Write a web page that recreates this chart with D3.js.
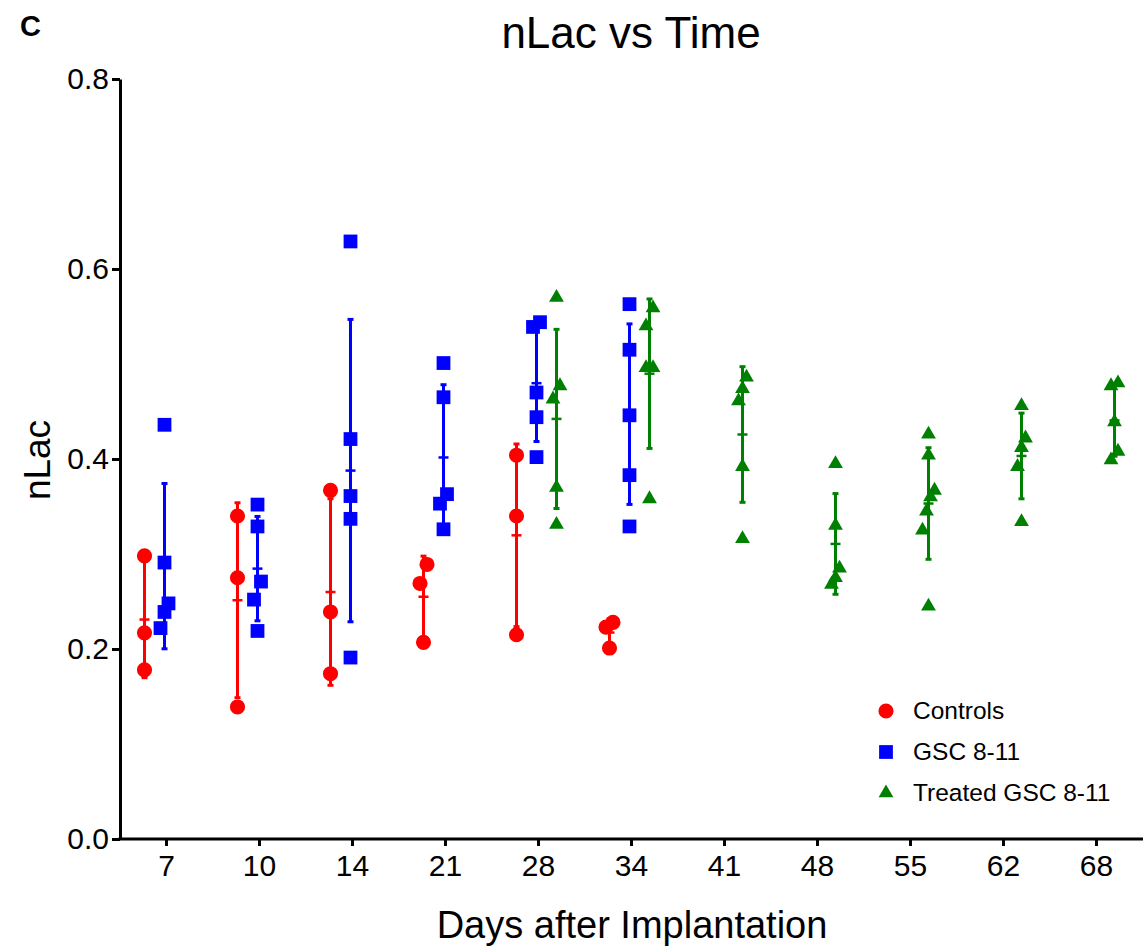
<!DOCTYPE html>
<html><head><meta charset="utf-8">
<script src="https://cdn.jsdelivr.net/npm/d3@7"></script>
<style>
body{margin:0;background:#fff}
svg{display:block}
text{font-family:"Liberation Sans",Arial,Helvetica,sans-serif;fill:#000}
</style>
</head><body>
<svg id="chart" width="1143" height="948"></svg>
<script>
// ---- data ----
const days = ["7","10","14","21","28","34","41","48","55","62","68"];
const seriesNames = ["Controls","GSC 8-11","Treated GSC 8-11"];
const yTicks = [0.0,0.2,0.4,0.6,0.8];

const controlsDays = ["7","10","14","21","28","34"];
const controlsValues = [
  [0.298,0.217,0.178],
  [0.340,0.275,0.139],
  [0.367,0.239,0.174],
  [0.289,0.269,0.207],
  [0.404,0.340,0.215],
  [0.228,0.223,0.201]
];
const gscDays = ["7","10","14","21","28","34"];
const gscValues = [
  [0.436,0.291,0.248,0.239,0.222],
  [0.352,0.329,0.271,0.252,0.219],
  [0.629,0.421,0.361,0.337,0.191],
  [0.501,0.465,0.363,0.353,0.326],
  [0.544,0.539,0.470,0.444,0.402],
  [0.563,0.515,0.446,0.383,0.329]
];
const treatedDays = ["28","34","41","48","55","62","68"];
const treatedValues = [
  [0.570,0.477,0.463,0.370,0.331],
  [0.559,0.540,0.496,0.496,0.358],
  [0.486,0.474,0.461,0.392,0.316],
  [0.395,0.330,0.285,0.275,0.268],
  [0.426,0.404,0.367,0.360,0.345,0.325,0.245],
  [0.456,0.422,0.412,0.392,0.334],
  [0.480,0.477,0.439,0.408,0.399]
];

const series = [
  {name: seriesNames[0], days: controlsDays, values: controlsValues},
  {name: seriesNames[1], days: gscDays, values: gscValues},
  {name: seriesNames[2], days: treatedDays, values: treatedValues}
];

// ---- layout ----
const svg = d3.select("#chart");
const plot = {left:120, right:1143, top:79, bottom:839};

const x = d3.scaleBand().domain(days).range([plot.left, plot.right]).padding(0);
const group = d3.scalePoint().domain(seriesNames).range([-22, 18]);
const y = d3.scaleLinear().domain([0, 0.8]).range([plot.bottom, plot.top]);
const color = d3.scaleOrdinal().domain(seriesNames).range(["#FF0000","#0000FF","#008000"]);
const shape = d3.scaleOrdinal().domain(seriesNames).range([d3.symbolCircle, d3.symbolSquare, d3.symbolTriangle]);
const symSize = d3.scaleOrdinal().domain(seriesNames).range([180, 190, 95]);

// build groups
const groups = [];
series.forEach(s => {
  s.days.forEach((d, i) => {
    const vals = s.values[i];
    const cx = x(d) + x.bandwidth()/2 + group(s.name);
    const mean = d3.mean(vals);
    const sd = d3.deviation(vals);
    // horizontal spreading of overlapping points (scatter-dot style)
    const sorted = vals.slice().sort((a,b) => b - a);
    const pts = [];
    let cluster = [];
    const flush = () => {
      const n = cluster.length;
      const step = n > 2 ? 4 : 7;
      cluster.forEach((v, k) => pts.push({v, dx: ((n-1)/2 - k) * step}));
      cluster = [];
    };
    sorted.forEach(v => {
      if (cluster.length && (y(v) - y(cluster[cluster.length-1])) >= 20) flush();
      cluster.push(v);
    });
    flush();
    groups.push({name: s.name, cx, mean, sd, pts});
  });
});

// ---- error bars ----
const eb = svg.append("g");
groups.forEach(g => {
  const c = color(g.name);
  const gg = eb.append("g").attr("stroke", c).attr("fill", "none");
  gg.append("line").attr("x1", g.cx).attr("x2", g.cx)
    .attr("y1", y(g.mean - g.sd)).attr("y2", y(g.mean + g.sd)).attr("stroke-width", 3);
  [g.mean - g.sd, g.mean + g.sd].forEach(v => {
    gg.append("line").attr("x1", g.cx - 3).attr("x2", g.cx + 3)
      .attr("y1", y(v)).attr("y2", y(v)).attr("stroke-width", 3);
  });
  gg.append("line").attr("x1", g.cx - 5).attr("x2", g.cx + 5)
    .attr("y1", y(g.mean)).attr("y2", y(g.mean)).attr("stroke-width", 2.5);
});

// ---- points ----
const pg = svg.append("g");
groups.forEach(g => {
  pg.selectAll(null).data(g.pts).enter().append("path")
    .attr("d", d3.symbol().type(shape(g.name)).size(symSize(g.name)))
    .attr("transform", p => `translate(${g.cx + p.dx},${y(p.v)})`)
    .attr("fill", color(g.name));
});

// ---- axes ----
const yAxis = svg.append("g").attr("transform", `translate(${plot.left},0)`)
  .call(d3.axisLeft(y).tickValues(yTicks).tickFormat(d3.format(".1f")).tickSize(8).tickSizeOuter(0).tickPadding(3));
const xAxis = svg.append("g").attr("transform", `translate(0,${plot.bottom})`)
  .call(d3.axisBottom(x).tickSize(7).tickSizeOuter(0).tickPadding(9));
[yAxis, xAxis].forEach(a => {
  a.select(".domain").attr("stroke", "#000").attr("stroke-width", 3);
  a.selectAll(".tick line").attr("stroke", "#000").attr("stroke-width", 3);
  a.selectAll(".tick text").attr("font-size", 30).attr("font-family", '"Liberation Sans",Arial,sans-serif').attr("fill", "#000");
});
xAxis.select(".domain").attr("d", `M${plot.left - 1.5},0H${plot.right}`);

// ---- titles ----
svg.append("text").attr("x", 631).attr("y", 48).attr("text-anchor", "middle")
  .attr("font-size", 44).text("nLac vs Time");
svg.append("text").attr("x", 20).attr("y", 36).attr("font-size", 29).attr("font-weight", "bold").text("C");
svg.append("text").attr("transform", `translate(50,460) rotate(-90)`).attr("text-anchor", "middle")
  .attr("font-size", 37).text("nLac");
svg.append("text").attr("x", 632).attr("y", 938).attr("text-anchor", "middle")
  .attr("font-size", 38).text("Days after Implantation");

// ---- legend ----
const legend = svg.append("g").attr("transform", "translate(886,711)");
seriesNames.forEach((n, i) => {
  const row = legend.append("g").attr("transform", `translate(0,${i*41})`);
  row.append("path").attr("d", d3.symbol().type(shape(n)).size(symSize(n))()).attr("fill", color(n));
  row.append("text").attr("x", 27).attr("y", 8).attr("font-size", 24.5).text(n);
});
</script>
</body></html>
